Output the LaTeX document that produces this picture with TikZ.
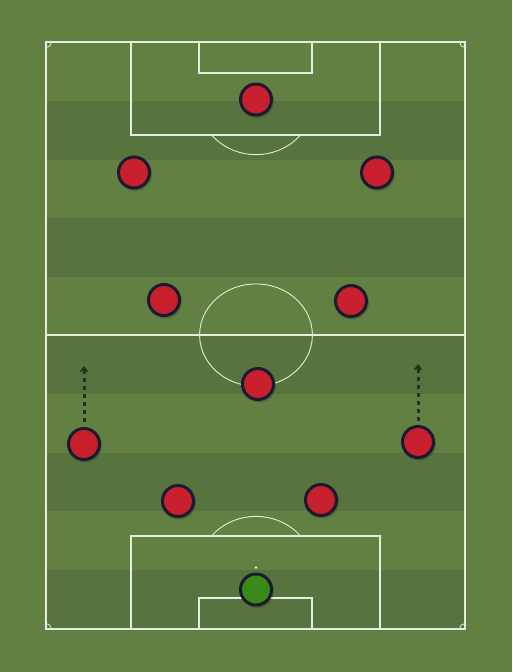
\documentclass[tikz,border=0pt]{standalone}
\usetikzlibrary{arrows.meta}
\definecolor{grassL}{HTML}{628042}
\definecolor{grassD}{HTML}{58743E}
\definecolor{lineC}{HTML}{E6ECDF}
\definecolor{redP}{HTML}{C8202C}
\definecolor{navyP}{HTML}{1C1A33}
\definecolor{gkG}{HTML}{3A8A17}
\definecolor{arrC}{HTML}{26331B}
\tikzset{
  pitchline/.style={draw=lineC, line width=1.1pt},
  thinline/.style={draw=lineC, line width=0.9pt},
  player/.style={circle, draw=navyP, line width=3pt, fill=redP, minimum size=31pt, inner sep=0pt},
  keeper/.style={player, fill=gkG},
  runarrow/.style={draw=arrC, line width=3pt, dash pattern=on 4.5pt off 3.5pt, -{Stealth[length=6pt,width=9pt,inset=1pt]}},
  shadowdisc/.style={circle, fill=black, opacity=0.18, minimum size=34pt, inner sep=0pt}
}
\begin{document}
\begin{tikzpicture}[x=1pt,y=-1pt]
\useasboundingbox (0,0) rectangle (512,672);
\fill[grassL] (0,0) rectangle (512,672);
% stripes
\foreach \a/\b in {101/160, 218/277, 335/394, 453/511, 570/629}
  \fill[grassD] (46,\a) rectangle (465,\b);
% outer lines
\draw[pitchline] (46,42) rectangle (465,629);
\draw[pitchline] (46,335) -- (465,335);
% centre circle and spot
\draw[thinline] (256,335) ellipse (56.4 and 51.1);
\fill[lineC] (256,335) circle (1.3);
% top area
\draw[pitchline] (131,42) -- (131,135) -- (380,135) -- (380,42);
\draw[pitchline] (199,42) -- (199,73) -- (312,73) -- (312,42);
\begin{scope}
  \clip (0,135) rectangle (512,200);
  \draw[thinline] (256,103.5) ellipse (56.4 and 51.1);
\end{scope}
% bottom area
\draw[pitchline] (131,629) -- (131,536) -- (380,536) -- (380,629);
\draw[pitchline] (199,629) -- (199,598) -- (312,598) -- (312,629);
\begin{scope}
  \clip (0,470) rectangle (512,536);
  \draw[thinline] (256,567.5) ellipse (56.4 and 51.1);
\end{scope}
\fill[lineC] (256,567.5) circle (1.4);
% corner arcs
\begin{scope}
  \clip (46,42) rectangle (465,629);
  \draw[pitchline, line width=0.8pt] (46,42) circle (5.5);
  \draw[pitchline, line width=0.8pt] (465,42) circle (5.5);
  \draw[pitchline, line width=0.8pt] (46,629) circle (5.5);
  \draw[pitchline, line width=0.8pt] (465,629) circle (5.5);
\end{scope}
% runs
\coordinate (aLs) at (84,422);
\coordinate (aLe) at (84,366);
\coordinate (aRs) at (418,421);
\coordinate (aRe) at (418,364);
\draw[runarrow] (aLs) -- (aLe);
\draw[runarrow] (aRs) -- (aRe);
% shadows
\foreach \x/\y in {256/99.5, 134/172.5, 377/172.5, 164/300, 351/301, 258/384, 84/444, 418/442, 178/501, 321/500, 256/589.5}
  \node[shadowdisc] at (\x+1,\y+1.5) {};
% players
\node[player] (p1) at (256,99.5) {};
\node[player] (p2) at (134,172.5) {};
\node[player] (p3) at (377,172.5) {};
\node[player] (p4) at (164,300) {};
\node[player] (p5) at (351,301) {};
\node[player] (p6) at (258,384) {};
\node[player] (p7) at (84,444) {};
\node[player] (p8) at (418,442) {};
\node[player] (p9) at (178,501) {};
\node[player] (p10) at (321,500) {};
\node[keeper] (gk) at (256,589.5) {};
\end{tikzpicture}
\end{document}
